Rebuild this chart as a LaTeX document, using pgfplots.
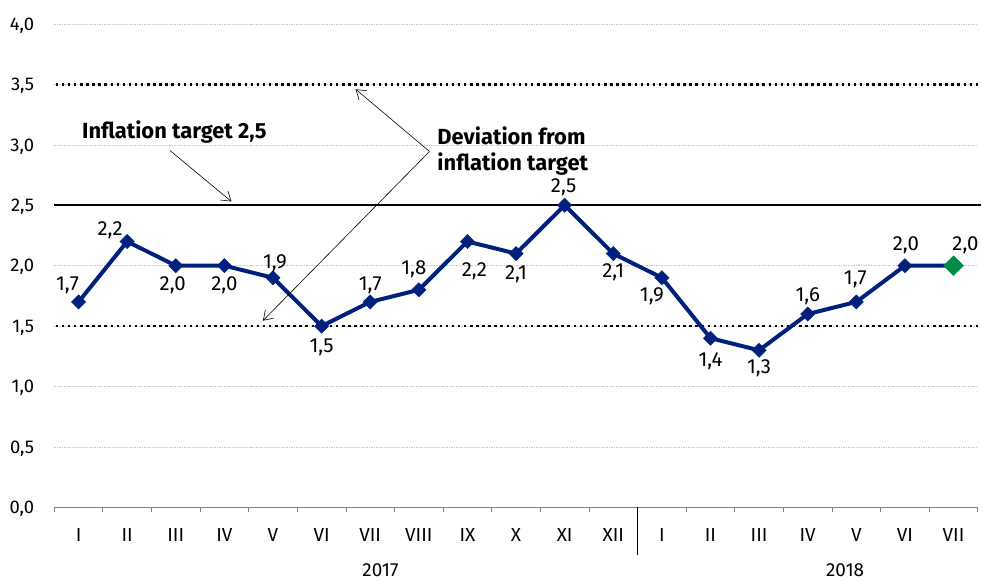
\documentclass[border=0pt]{standalone}
\usepackage{fontspec}
\setmainfont{Fira Sans}
\usepackage{pgfplots}
\usepackage{pgfplotstable}
\pgfplotsset{compat=1.18}
\usetikzlibrary{arrows.meta}
\definecolor{navy}{RGB}{0,32,125}
\definecolor{mygreen}{RGB}{0,140,70}
\definecolor{gridgray}{RGB}{200,200,200}

\pgfplotstableread{
x y dx dy
0 1.7 -11 19
1 2.2 -17 13
2 2.0 -3 -17.5
3 2.0 0 -17.5
4 1.9 2 16.5
5 1.5 0 -19
6 1.7 0 19
7 1.8 -5 22
8 2.2 7 -28
9 2.1 0 -19
10 2.5 -1 20
11 2.1 0 -17
12 1.9 -10 -17
13 1.4 0 -21
14 1.3 0 -16
15 1.6 0 20
16 1.7 -1 25
17 2.0 1 22
18 2.0 12 22
}\datatable

\begin{document}
\begin{tikzpicture}
\begin{axis}[
  scale only axis,
  width=924.7bp, height=484bp,
  xmin=-0.5, xmax=18.5, ymin=0, ymax=4,
  clip=false,
  axis x line*=bottom,
  axis y line*=left,
  y axis line style={draw=none},
  x axis line style={draw=gray, line width=0.8bp},
  xtick={0,...,18},
  xticklabels={I,II,III,IV,V,VI,VII,VIII,IX,X,XI,XII,I,II,III,IV,V,VI,VII},
  minor xtick={-0.5,0.5,...,18.5},
  ytick={0,0.5,...,4},
  major tick length=0pt,
  minor tick length=5bp,
  tick align=outside,
  xtick style={draw=none},
  minor x tick style={draw=gray, line width=0.8bp},
  ytick style={draw=none},
  ymajorgrids,
  major grid style={draw=gridgray, line width=0.6bp, dash pattern=on 1.5bp off 1bp},
  xticklabel style={font=\fontsize{19}{22}\selectfont, anchor=base, inner sep=0pt, yshift=-33.7bp},
  yticklabel style={font=\fontsize{18.5}{22}\selectfont, anchor=base east, inner sep=0pt, xshift=-20bp, yshift=-6.3bp},
  /pgf/number format/.cd, use comma, fixed, fixed zerofill, precision=1, assume math mode=true
]
% reference lines
\draw[black, line width=2.5bp, dash pattern=on 2.5bp off 3.6bp] (axis cs:-0.47,3.5) -- (axis cs:18.56,3.5);
\draw[black, line width=2.5bp, dash pattern=on 2.5bp off 3.6bp] (axis cs:-0.47,1.5) -- (axis cs:18.56,1.5);
\draw[black, line width=2.2bp] (axis cs:-0.5,2.5) -- (axis cs:18.56,2.5);

% data
\addplot[navy, line width=4bp, mark=square*, mark size=5bp,
  mark options={rotate=45, solid, fill=navy, line width=0.5bp},
  visualization depends on={\thisrow{dx} \as \dx},
  visualization depends on={\thisrow{dy} \as \dy},
  nodes near coords,
  every node near coord/.append style={anchor=base, inner sep=0pt, text=black,
     font=\fontsize{20.5}{24}\selectfont,
     xshift={\dx*1bp}, yshift={(\dy-7.1)*1bp}}]
  table[x=x, y=y] {\datatable};
\addplot[only marks, mark=square*, mark size=7bp, mark options={rotate=45, fill=mygreen, draw=mygreen}]
  coordinates {(18,2.0)};

% separator and years
\draw[black, line width=1bp] (axis cs:11.5,0) -- ([yshift=-48bp]axis cs:11.5,0);
\node[anchor=base, inner sep=0pt, font=\fontsize{19}{22}\selectfont] at ([yshift=-69bp]axis cs:6.21,0) {2017};
\node[anchor=base, inner sep=0pt, font=\fontsize{19}{22}\selectfont] at ([yshift=-69bp]axis cs:15.77,0) {2018};

% annotations
\node[anchor=base west, inner sep=0pt, font=\fontsize{22}{26}\selectfont\bfseries] at ([xshift=27.7bp]axis cs:-0.5,3.05) {Inflation target 2,5};
\draw[line width=0.6bp, -{Straight Barb[length=9bp, width=12bp]}] (axis cs:1.88,2.953) -- (axis cs:3.145,2.531);

\node[anchor=base west, inner sep=0pt, font=\fontsize{22}{26}\selectfont\bfseries] at (axis cs:7.38,3.0) {Deviation from};
\node[anchor=base west, inner sep=0pt, font=\fontsize{22}{26}\selectfont\bfseries] at (axis cs:7.38,2.79) {inflation target};
\draw[line width=0.6bp, -{Straight Barb[length=9bp, width=12bp]}] (axis cs:7.22,2.945) -- (axis cs:5.70,3.46);
\draw[line width=0.6bp, -{Straight Barb[length=9bp, width=12bp]}] (axis cs:7.22,2.945) -- (axis cs:3.794,1.545);

% bounding box
\path ([xshift=-54.3bp,yshift=-73bp]axis cs:-0.5,0) rectangle ([xshift=3bp,yshift=24bp]axis cs:18.5,4);
\end{axis}
\end{tikzpicture}
\end{document}
